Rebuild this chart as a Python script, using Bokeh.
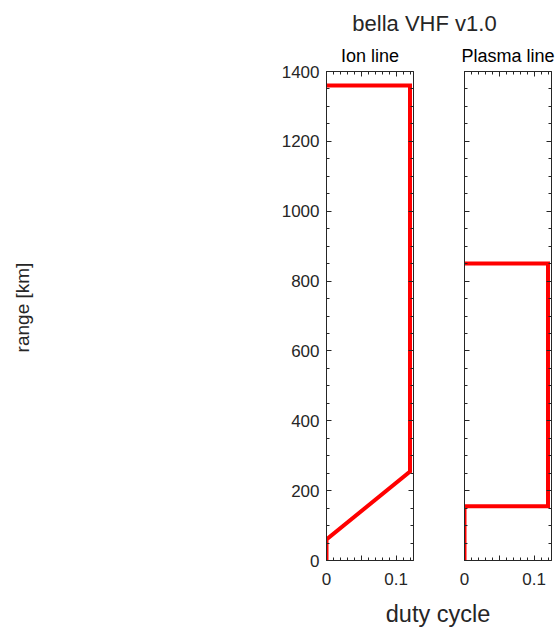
import math
from bokeh.plotting import figure
from bokeh.models import (Range1d, FixedTicker, LinearAxis, ColumnDataSource,
                          CustomJSTickFormatter)
from bokeh.core.properties import value
from bokeh.layouts import column, row
from bokeh.embed import file_html
from bokeh.resources import INLINE

# ---------------- data ----------------
main_title = "bella VHF v1.0"
panel_titles = ["Ion line", "Plasma line"]
y_label = "range [km]"
x_label = "duty cycle"

ion_duty = [0, 0, 0.12, 0.12, 0]
ion_range = [0, 60, 255, 1360, 1360]
plasma_duty = [0, 0, 0.12, 0.12, 0]
plasma_range = [0, 155, 155, 850, 850]

x_limits = [0, 0.125]
y_limits = [0, 1400]
x_major = [0, 0.05, 0.1]
x_minor = [0, 0.01, 0.02, 0.03, 0.04, 0.05, 0.06, 0.07, 0.08, 0.09, 0.1, 0.11, 0.12]
x_tick_labels = {0: "0", 0.05: "", 0.1: "0.1"}
y_major = [0, 200, 400, 600, 800, 1000, 1200, 1400]
y_minor = [0, 50, 100, 150, 200, 250, 300, 350, 400, 450, 500, 550, 600, 650, 700,
           750, 800, 850, 900, 950, 1000, 1050, 1100, 1150, 1200, 1250, 1300, 1350, 1400]

# ---------------- style / layout ----------------
INK = "#262626"
FONT = "Liberation Sans"
RED = "#ff0000"
TICK_SIZE = "17px"

TOTAL_W = 559
FRAME_W, FRAME_H = 87, 489
HEAD_H = 40
TOP_B, BOT_B = 31, 34
MID_H = TOP_B + FRAME_H + BOT_B
FOOT_H = 630 - HEAD_H - MID_H
STRIP_W = 60
ION_L, ION_R = 266, 27
PL_L, PL_R = 24, 8
TEXT_SHIFT = 7  # compensation for the svg text baseline offset


def style_axis(ax, ticker, show_labels, overrides=None):
    ax.ticker = ticker
    ax.axis_line_color = INK
    ax.axis_line_width = 1
    ax.major_tick_line_color = INK
    ax.minor_tick_line_color = INK
    ax.major_tick_in = 5
    ax.major_tick_out = 0
    ax.minor_tick_in = 3
    ax.minor_tick_out = 0
    ax.major_label_text_font = FONT
    ax.major_label_text_color = INK
    ax.major_label_text_font_size = TICK_SIZE
    if overrides:
        ax.major_label_overrides = overrides
    if not show_labels:
        ax.formatter = CustomJSTickFormatter(code="return ''")
        ax.major_label_standoff = 0


def make_panel(title, xs, ys, left_b, right_b, show_y_labels, y_range):
    p = figure(frame_width=FRAME_W, frame_height=FRAME_H,
               x_range=Range1d(*x_limits), y_range=y_range,
               toolbar_location=None, output_backend="svg",
               min_border_left=left_b, min_border_right=right_b,
               min_border_top=TOP_B, min_border_bottom=BOT_B,
               background_fill_color="white", border_fill_color="white",
               outline_line_color=None)
    p.title.text = title
    p.title.align = "center"
    p.title.vertical_align = "top"
    p.title.standoff = 8
    p.title.text_font = FONT
    p.title.text_font_size = "18px"
    p.title.text_font_style = "normal"
    p.title.text_color = "#000000"
    p.grid.visible = False
    src = ColumnDataSource(dict(x=xs, y=ys))
    p.line("x", "y", source=src, line_color=RED, line_width=4, line_join="miter")

    style_axis(p.xaxis[0], FixedTicker(ticks=x_major, minor_ticks=x_minor), True, x_tick_labels)
    p.xaxis[0].major_label_standoff = 12
    style_axis(p.yaxis[0], FixedTicker(ticks=y_major, minor_ticks=y_minor), show_y_labels)
    if show_y_labels:
        p.yaxis[0].major_label_standoff = 7

    top = LinearAxis()
    style_axis(top, FixedTicker(ticks=x_major, minor_ticks=x_minor), False)
    p.add_layout(top, "above")
    right = LinearAxis()
    style_axis(right, FixedTicker(ticks=y_major, minor_ticks=y_minor), False)
    p.add_layout(right, "right")
    return p


def text_strip(w, h):
    f = figure(width=w, height=h, x_range=Range1d(0, w), y_range=Range1d(0, h),
               toolbar_location=None, output_backend="svg",
               x_axis_type=None, y_axis_type=None, min_border=0,
               min_border_left=0, min_border_right=0, min_border_top=0, min_border_bottom=0,
               outline_line_color=None, background_fill_color="white",
               border_fill_color="white")
    f.grid.visible = False
    return f


def put_text(f, x, y, t, size, color=INK, angle=0.0):
    f.text(x=[x], y=[y], text=[t], angle=angle, text_align="center",
           text_baseline="alphabetic", text_font=value(FONT),
           text_font_size=value(size), text_color=color)


shared_y = Range1d(*y_limits)
ion = make_panel(panel_titles[0], ion_duty, ion_range, ION_L, ION_R, True, shared_y)
plasma = make_panel(panel_titles[1], plasma_duty, plasma_range, PL_L, PL_R, False, shared_y)

# y-axis title strip on the far left (same frame geometry as the panels)
left = figure(frame_width=STRIP_W, frame_height=FRAME_H,
              x_range=Range1d(0, STRIP_W), y_range=Range1d(0, FRAME_H),
              toolbar_location=None, output_backend="svg",
              x_axis_type=None, y_axis_type=None,
              min_border_left=0, min_border_right=0,
              min_border_top=TOP_B, min_border_bottom=BOT_B,
              outline_line_color=None, background_fill_color="white",
              border_fill_color="white")
left.grid.visible = False
put_text(left, 22, FRAME_H - (307 - (HEAD_H + TOP_B)), y_label, "19px", angle=math.pi / 2)

# header: main title
head = text_strip(TOTAL_W, HEAD_H)
put_text(head, 424, HEAD_H - 30 + TEXT_SHIFT, main_title, "22px")

# footer: x-axis title
foot = text_strip(TOTAL_W, FOOT_H)
put_text(foot, 437.5, FOOT_H - (620 - HEAD_H - MID_H) + TEXT_SHIFT, x_label, "23.5px")

layout = column(head, row(left, ion, plasma, spacing=0), foot, spacing=0)
open("out.html", "w").write(file_html(layout, INLINE))
